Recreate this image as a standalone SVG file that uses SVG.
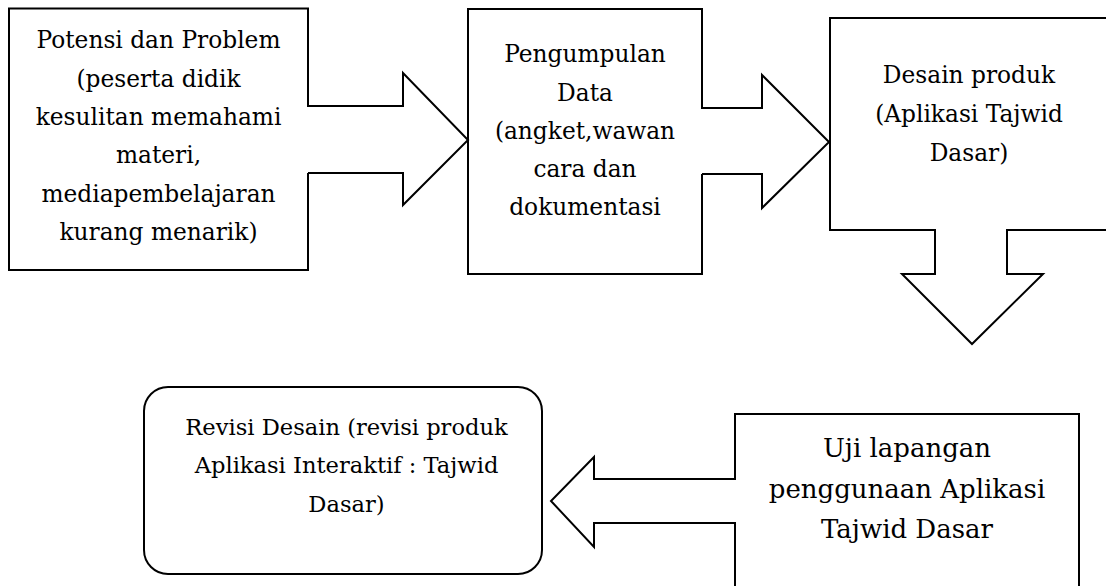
<svg xmlns="http://www.w3.org/2000/svg" width="1106" height="586" viewBox="0 0 1106 586">
<style>
.box{fill:#fff;stroke:#000;stroke-width:2}
.t{font-family:"DejaVu Serif","Liberation Serif",serif;font-size:23.3px;fill:#000;text-anchor:middle}
.t5{font-size:26px}
.t4{font-size:22.6px}
.fillw{fill:#fff;stroke:none}
.out{fill:none;stroke:#000;stroke-width:2;stroke-linejoin:miter}
</style>
<rect width="1106" height="586" fill="#fff"/>
<g id="node-potensi">
<rect class="box" x="9" y="8.5" width="299" height="261.5"/>
<text class="t" x="158.5" y="48">Potensi dan Problem</text>
<text class="t" x="158.5" y="87">(peserta didik</text>
<text class="t" x="158.5" y="125">kesulitan memahami</text>
<text class="t" x="158.5" y="163">materi,</text>
<text class="t" x="158.5" y="202">mediapembelajaran</text>
<text class="t" x="158.5" y="240">kurang menarik)</text>
</g>
<g id="node-pengumpulan">
<rect class="box" x="468" y="9" width="234" height="265"/>
<text class="t" x="585" y="62">Pengumpulan</text>
<text class="t" x="585" y="101">Data</text>
<text class="t" x="585" y="139">(angket,wawan</text>
<text class="t" x="585" y="177">cara dan</text>
<text class="t" x="585" y="215">dokumentasi</text>
</g>
<g id="node-desain">
<rect class="box" x="830" y="18" width="280" height="212"/>
<text class="t" x="969" y="83">Desain produk</text>
<text class="t" x="969" y="122">(Aplikasi Tajwid</text>
<text class="t" x="969" y="161">Dasar)</text>
</g>
<g id="node-revisi">
<rect class="box" x="144" y="387" width="398" height="187" rx="24" ry="24"/>
<text class="t t4" x="346.5" y="435">Revisi Desain (revisi produk</text>
<text class="t t4" x="346.5" y="473">Aplikasi Interaktif : Tajwid</text>
<text class="t t4" x="346.5" y="512">Dasar)</text>
</g>
<g id="node-uji">
<rect class="box" x="735" y="414" width="344" height="200"/>
<text class="t t5" x="907" y="457">Uji lapangan</text>
<text class="t t5" x="907" y="498">penggunaan Aplikasi</text>
<text class="t t5" x="907" y="538">Tajwid Dasar</text>
</g>
<g id="connectors">
<polygon class="fillw" points="305,107 403,107 403,73 468,140 403,205 403,173 305,173"/>
<polyline class="out" points="308,106 403,106 403,73 468,140 403,205 403,173 308,173"/>
<polygon class="fillw" points="699,109 762,109 762,75 828,142 762,208 762,174 699,174"/>
<polyline class="out" points="702,108 762,108 762,75 829,142 762,208 762,174 702,174"/>
<polygon class="fillw" points="936,227 936,274 902,274 972,344 1043,274 1006,274 1006,227"/>
<polyline class="out" points="935,230 935,274 902,274 972,344 1043,274 1007,274 1007,230"/>
<polygon class="fillw" points="738,480 594,480 594,457 551,501 594,547 594,522 738,522"/>
<polyline class="out" points="735,479 594,479 594,457 551,501 594,547 594,523 735,523"/>
</g>
</svg>
